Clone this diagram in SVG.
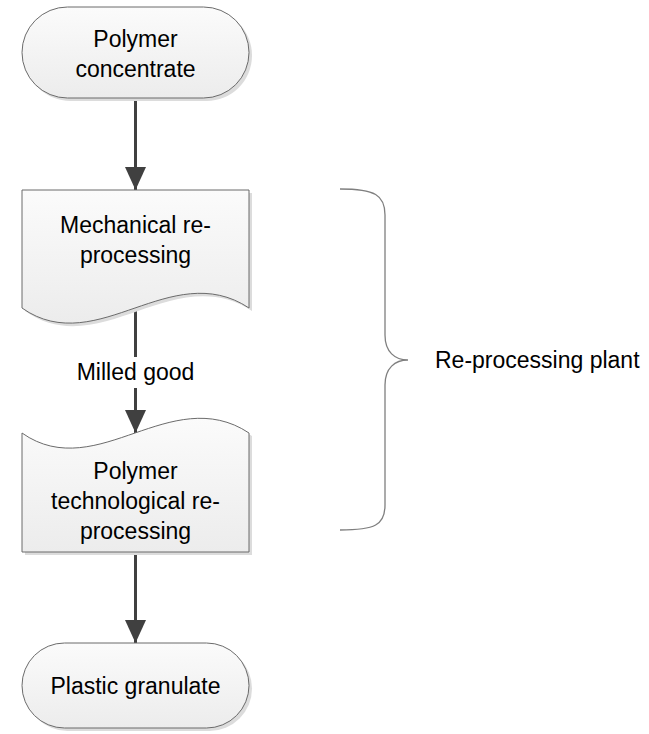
<svg xmlns="http://www.w3.org/2000/svg" width="649" height="734" viewBox="0 0 649 734">
<style>
.shape{fill:url(#g);stroke:#6b6b6b;stroke-width:1}
.shadow{fill:#dcdcdc;stroke:none}
.t{font-family:"Liberation Sans",Arial,sans-serif;font-size:23px;fill:#000;text-anchor:middle}
.conn{stroke:#404040;stroke-width:3;fill:none}
.brace{stroke:#7f7f7f;stroke-width:1.3;fill:none}
</style>
<defs>
<linearGradient id="g" x1="0" y1="0" x2="0" y2="1">
<stop offset="0" stop-color="#fbfbfb"/>
<stop offset="1" stop-color="#ececec"/>
</linearGradient>
<marker id="arr" viewBox="0 0 23 21" refX="23" refY="10.5" markerWidth="23" markerHeight="21" markerUnits="userSpaceOnUse" orient="auto">
<path d="M0,0 L23,10.5 L0,21 Z" fill="#404040"/>
</marker>
</defs>
<rect x="0" y="0" width="649" height="734" fill="#fff"/>
<g id="connectors">
<line class="conn" x1="135.5" y1="98" x2="135.5" y2="190" marker-end="url(#arr)"/>
<line class="conn" x1="135.5" y1="308" x2="135.5" y2="433" marker-end="url(#arr)"/>
<line class="conn" x1="135.5" y1="552" x2="135.5" y2="643" marker-end="url(#arr)"/>
<g id="label-milled">
<rect x="70" y="357" width="131" height="31" fill="#fff"/>
<text class="t" x="135.5" y="380">Milled good</text>
</g>
</g>
<g id="n1">
<rect class="shadow" x="25" y="10" width="227" height="91" rx="45.5"/>
<rect class="shape" x="22" y="7" width="227" height="91" rx="45.5"/>
<text class="t" x="135.5" y="47">Polymer</text>
<text class="t" x="135.5" y="77">concentrate</text>
</g>
<g id="n2">
<path class="shadow" transform="translate(3,3)" d="M22,190 H249 V308 C210,282 170,296 135,308 C100,320 60,335 22,308 Z"/>
<path class="shape" d="M22,190 H249 V308 C210,282 170,296 135,308 C100,320 60,335 22,308 Z"/>
<text class="t" x="135.5" y="233">Mechanical re-</text>
<text class="t" x="135.5" y="263">processing</text>
</g>
<g id="n3">
<path class="shadow" transform="translate(3,3)" d="M22,433 C60,460 100,445 135,433 C170,421 210,407 249,433 V552 H22 Z"/>
<path class="shape" d="M22,433 C60,460 100,445 135,433 C170,421 210,407 249,433 V552 H22 Z"/>
<text class="t" x="135.5" y="479">Polymer</text>
<text class="t" x="135.5" y="509">technological re-</text>
<text class="t" x="135.5" y="539">processing</text>
</g>
<g id="n4">
<rect class="shadow" x="25" y="646" width="227" height="85" rx="42.5"/>
<rect class="shape" x="22" y="643" width="227" height="85" rx="42.5"/>
<text class="t" x="135.5" y="694">Plastic granulate</text>
</g>
<g id="brace">
<path class="brace" d="M340,189 C375,189 385,195 385,215 V335 C385,352 395,360 408,360 C395,360 385,368 385,385 V505 C385,525 375,530 340,530"/>
<text class="t" x="435" y="368" style="text-anchor:start">Re-processing plant</text>
</g>
</svg>
